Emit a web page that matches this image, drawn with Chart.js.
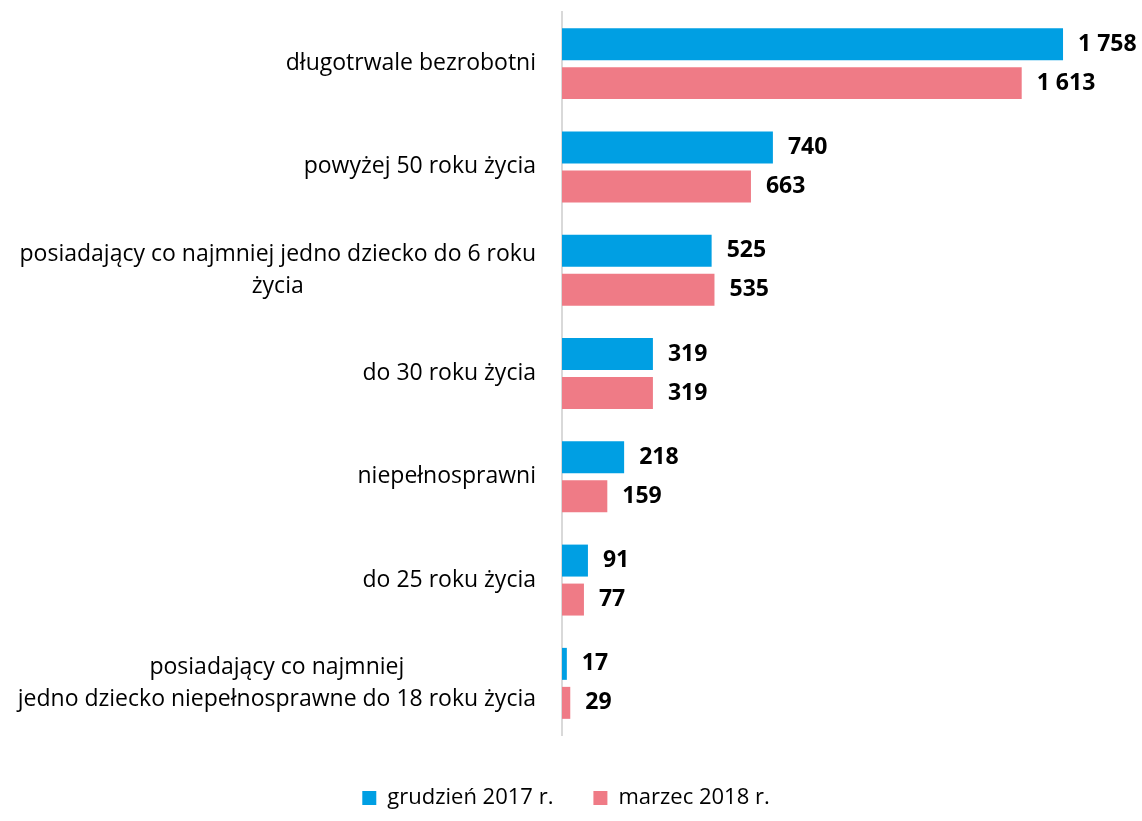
<!DOCTYPE html>
<html>
<head>
<meta charset="utf-8">
<script src="https://cdn.jsdelivr.net/npm/chart.js@4"></script>
<style>
  html, body { margin: 0; padding: 0; background: #fff; }
  #wrap { width: 1142px; height: 821px; }
</style>
</head>
<body>
<div id="wrap"><canvas id="chart"></canvas></div>
<script>
const categories = [
  ['długotrwale bezrobotni'],
  ['powyżej 50 roku życia'],
  ['posiadający co najmniej jedno dziecko do 6 roku', 'życia'],
  ['do 30 roku życia'],
  ['niepełnosprawni'],
  ['do 25 roku życia'],
  ['posiadający co najmniej', 'jedno dziecko niepełnosprawne do 18 roku życia']
];
const seriesNames = ['grudzień 2017 r.', 'marzec 2018 r.'];
const dec2017 = [1758, 740, 525, 319, 218, 91, 17];
const mar2018 = [1613, 663, 535, 319, 159, 77, 29];

const FONT = '"Open Sans", "DejaVu Sans", sans-serif';
const fmt = v => String(v).replace(/\B(?=(\d{3})+(?!\d))/g, ' ');

// y-axis labels: single lines right-aligned, multi-line blocks centred
const catLabels = {
  id: 'catLabels',
  afterDraw(chart) {
    const ctx = chart.ctx;
    const y = chart.scales.y;
    const right = y.right - 26;
    ctx.save();
    ctx.font = '23px ' + FONT;
    ctx.fillStyle = '#000';
    ctx.textBaseline = 'middle';
    ctx.textAlign = 'center';
    chart.data.labels.forEach((lines, i) => {
      const cy = y.getPixelForValue(i);
      const w = Math.max(...lines.map(l => ctx.measureText(l).width));
      const cx = right - w / 2;
      const lh = 32;
      const y0 = cy - (lines.length - 1) * lh / 2;
      lines.forEach((l, k) => ctx.fillText(l, cx, y0 + k * lh));
    });
    ctx.restore();
  }
};

// value labels at bar ends
const valueLabels = {
  id: 'valueLabels',
  afterDatasetsDraw(chart) {
    const ctx = chart.ctx;
    ctx.save();
    ctx.font = 'bold 23px ' + FONT;
    ctx.fillStyle = '#000';
    ctx.textBaseline = 'middle';
    ctx.textAlign = 'left';
    chart.data.datasets.forEach((ds, di) => {
      chart.getDatasetMeta(di).data.forEach((bar, i) => {
        ctx.fillText(fmt(ds.data[i]), bar.x + 15, bar.y);
      });
    });
    ctx.restore();
  }
};

new Chart(document.getElementById('chart'), {
  type: 'bar',
  data: {
    labels: categories,
    datasets: [
      { label: seriesNames[0], data: dec2017, backgroundColor: '#009FE3' },
      { label: seriesNames[1], data: mar2018, backgroundColor: '#EF7B86' }
    ]
  },
  options: {
    indexAxis: 'y',
    responsive: true,
    maintainAspectRatio: false,
    animation: false,
    categoryPercentage: 0.755,
    barPercentage: 0.82,
    layout: { padding: { top: 12, right: 10, left: 0, bottom: 2 } },
    scales: {
      x: {
        min: 0, max: 2000,
        grid: { display: false },
        border: { display: false },
        ticks: { display: false },
        afterFit: s => { s.height = 12; }
      },
      y: {
        grid: { display: false },
        border: { display: true, color: '#d9d9d9', width: 2 },
        ticks: { display: false },
        afterFit: s => { s.width = 562; }
      }
    },
    plugins: {
      legend: {
        position: 'bottom',
        labels: {
          boxWidth: 14,
          boxHeight: 14,
          padding: 40,
          color: '#000',
          font: { family: FONT, size: 22 }
        }
      },
      tooltip: { enabled: false }
    }
  },
  plugins: [catLabels, valueLabels]
});
</script>
</body>
</html>
